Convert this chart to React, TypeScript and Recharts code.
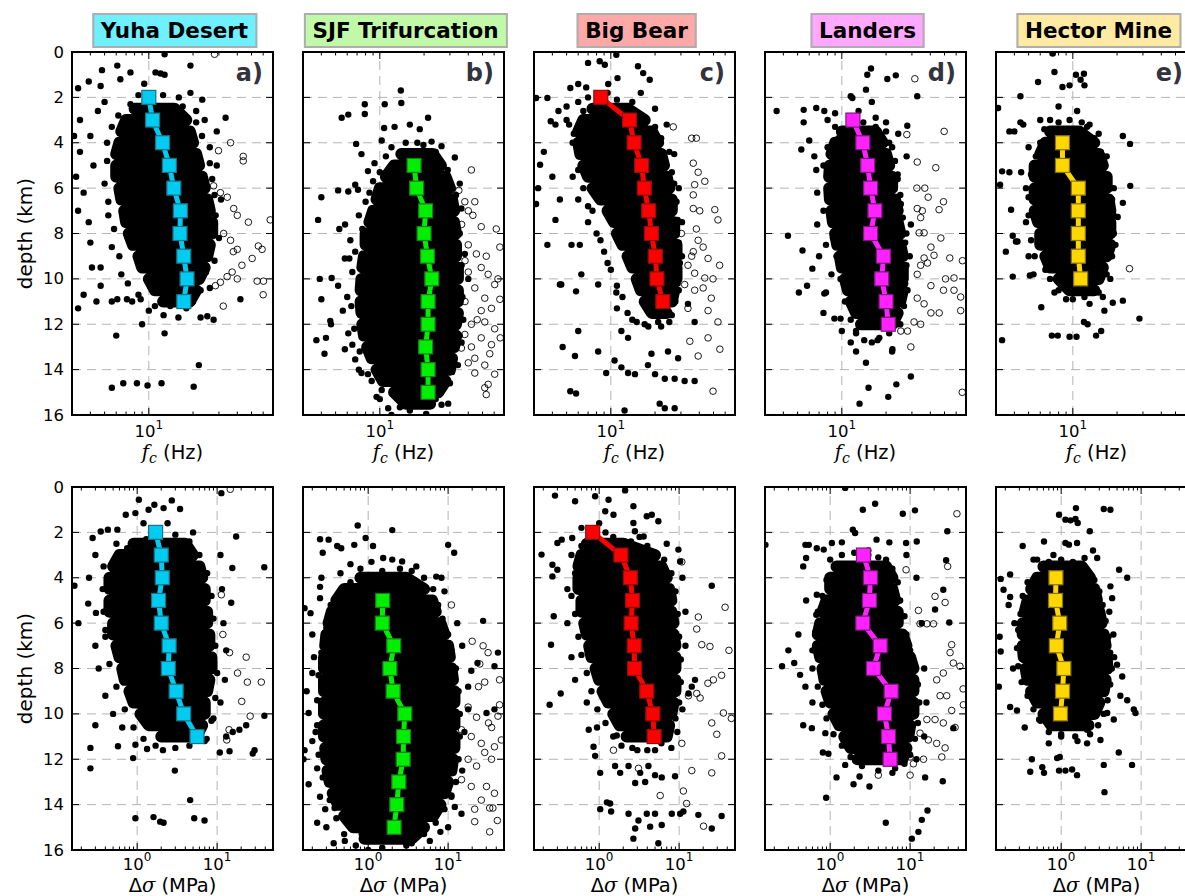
import React from 'react';
import { ScatterChart, Scatter, XAxis, YAxis, ReferenceLine } from 'recharts';

type Pt = [number, number]; // [value, depth km]
type Band = [number, number, number]; // [depth km, low, high] of the dense part of a cloud

// ---------- axes ----------
const depthTicks = [0, 2, 4, 6, 8, 10, 12, 14, 16];
const gridDepths = [2, 4, 6, 8, 10, 12, 14];
const fcTicks = [3, 4, 5, 6, 7, 8, 9, 10, 20, 30, 40, 50, 60, 70];
const fcMajor = [10];
const dsTicks = [0.2, 0.3, 0.4, 0.5, 0.6, 0.7, 0.8, 0.9, 1, 2, 3, 4, 5, 6, 7, 8, 9, 10, 20, 30, 40, 50];
const dsMajor = [1, 10];

const regionNames = ['Yuha Desert', 'SJF Trifurcation', 'Big Bear', 'Landers', 'Hector Mine'];
const panelLetters = ['a)', 'b)', 'c)', 'd)', 'e)'];
const titleColors = ['#6ef0ff', '#c2f9a8', '#ffa8a8', '#ffa8ff', '#ffeaa4'];
const medianColors = ['#00ccf2', '#00ee00', '#ff0000', '#ff22ff', '#ffd700'];
const medianEdges = ['#1f6f85', '#1d7a1d', '#8a1010', '#7a1a7a', '#8a7410'];

// ---------- corner frequency (Hz) vs depth ----------
const yuhaFcMedian: Pt[] = [[10.0, 2], [10.6, 3], [12.4, 4], [13.8, 5], [14.8, 6], [16.4, 7], [16.3, 8], [17.3, 9], [18.2, 10], [17.3, 11]];
const yuhaFcCore: Band[] = [[2.5, 8, 15], [3, 7, 18], [3.5, 6.5, 19], [4, 6.3, 20], [4.5, 6, 21], [5, 6, 22], [5.5, 6, 23], [6, 6.3, 24], [6.5, 6.5, 25], [7, 6.8, 26], [7.5, 7, 27], [8, 7.3, 27], [8.5, 7.8, 26], [9, 8.5, 25], [9.5, 9, 24], [10, 10, 22], [10.5, 11, 21], [11, 12.5, 19]];
const yuhaFcDots: Pt[] = [[4.8, 0.8], [6.1, 0.6], [7.5, 0.9], [11.1, 0.9], [12, 0.95], [12.8, 1], [19.2, 0.6], [12.8, 0.1], [3.3, 1.6], [3.9, 1.3], [4.7, 1.5], [6.4, 1.2], [9.3, 1.4], [19.2, 1.8], [23.1, 2.1], [33.3, 2.9], [3.1, 3.7], [3.4, 3], [4, 3.7], [3.4, 4.4], [3.2, 5.5], [3.6, 6.2], [4.2, 5], [3.3, 7], [3.9, 7.5], [4, 8.4], [4.1, 9.5], [4.7, 9.5], [4.7, 10.3], [3.6, 10.7], [3.3, 11.3], [4.4, 11], [5.6, 11], [6.1, 10.9], [7.1, 10.9], [7.7, 11], [8.8, 10.9], [9, 12], [6, 12.5], [12.8, 12.4], [21.9, 13.8], [5.6, 14.8], [6.7, 14.6], [8.3, 14.6], [9.8, 14.7], [12.2, 14.6], [20.2, 14.75], [27.6, 11.8], [25, 11.65], [22.5, 11.7], [42, 10.9], [12.6, 11.6], [15.9, 11.7], [29, 3.5], [29, 5], [31, 6.5], [30, 8.2], [5, 2.2], [4.5, 2.6], [8.5, 1.9], [5.2, 4], [5, 5.8], [5.3, 7.2], [5.6, 8.6], [6.5, 9.8], [7.5, 2.3], [6.2, 2.8], [16, 2], [21, 2.6], [24, 3], [26, 4.2], [27, 5.6], [28.5, 7.2], [28, 9.2], [26, 10.4], [10, 11.4], [14, 11.2], [18, 11.3], [5.6, 3.3], [5.2, 4.8], [5.3, 6.6], [5.8, 7.8], [6.3, 9], [7.2, 10.2], [8.5, 10.7], [11, 11.2], [20, 11], [22.5, 10.5], [24.5, 9.7], [26.5, 8.6], [28, 6.3], [26, 4.9], [23, 3.7], [21, 3.1], [17, 2.4], [12.5, 1.9], [9.5, 2.2]];
const yuhaFcOpen: Pt[] = [[36, 4], [29.8, 4.35], [43.9, 4.6], [43.9, 4.8], [27.6, 5.9], [30.7, 6.2], [34.2, 6.4], [47.6, 7.5], [32.3, 8], [36, 8.3], [40, 8.7], [55.6, 8.55], [59, 8.7], [50.5, 9.1], [37.6, 8.8], [43, 9.4], [36.9, 9.7], [40, 10], [34.1, 9.9], [54.6, 10.1], [60.3, 10.1], [60, 10.7], [32.1, 11.2], [28.4, 10.3], [30.7, 10.15], [37.8, 6.9], [40, 7.2], [67, 7.4], [28, 0.1]];

const sjfFcMedian: Pt[] = [[17.1, 5], [17.8, 6], [20.5, 7], [20, 8], [21.1, 9], [22.6, 10], [21.3, 11], [21.3, 12], [20.5, 13], [21.3, 14], [21.3, 15]];
const sjfFcCore: Band[] = [[4.5, 14, 23], [5, 12.5, 26], [5.5, 11, 28], [6, 10, 30], [6.5, 9.5, 31], [7, 9, 32], [7.5, 8.5, 32], [8, 8, 33], [8.5, 8, 33], [9, 7.8, 33], [9.5, 7.6, 34], [10, 7.5, 34], [10.5, 7.4, 34], [11, 7.4, 34], [11.5, 7.5, 34], [12, 7.6, 33], [12.5, 7.8, 33], [13, 8.2, 32], [13.5, 8.8, 31], [14, 9.5, 30], [14.5, 10.5, 28], [15, 12.5, 25], [15.5, 15, 22]];
const sjfFcDots: Pt[] = [[13.9, 1.7], [7.9, 2.3], [10.8, 2.3], [14, 2.25], [5.5, 2.9], [6.1, 2.76], [7.9, 2.73], [21.3, 2.9], [10.7, 3.35], [12.6, 3.3], [16, 3.2], [18.7, 3.4], [6.9, 4.05], [7.5, 4.5], [10.3, 3.9], [26.3, 4.15], [32.4, 4.65], [22.5, 3.95], [19.8, 4.1], [5.2, 6.1], [6.1, 6.15], [7.1, 6.07], [4, 6.4], [3.8, 7.4], [5.8, 7.6], [5.3, 7.8], [8.3, 5.25], [9, 5.7], [6.8, 5.85], [5.78, 9.1], [6.2, 9.1], [3.9, 10], [4.7, 9.96], [5.2, 10.3], [4, 10.9], [4.6, 11.85], [4.65, 12], [3.7, 12.7], [4.3, 12.6], [4.2, 13.3], [5.78, 13.1], [6.8, 13.55], [7.5, 14.15], [8.8, 14.5], [10.3, 14.9], [11.4, 15.7], [13.7, 15.66], [26.3, 15.55], [29.2, 15.5], [20.7, 15.95], [32.4, 6.6], [35.9, 6.9], [37.9, 8.9], [40, 10], [6.3, 8.3], [6, 10.8], [5.6, 11.4], [6.1, 12.4], [6.5, 12.9], [7.2, 14], [9.5, 15.2], [12, 16], [16, 15.8], [24, 15.3], [30, 14.6], [34, 13.8], [36, 12.8], [37, 11.8], [12, 4.2], [9.2, 4.9], [8, 6.6], [7.2, 7.2], [35, 5.8], [27, 5], [15, 4], [11, 4.6], [10, 5.3], [8.5, 6.2], [7.6, 7.8], [6.8, 8.8], [6.5, 9.7], [6.4, 11.2], [6.7, 12.2], [7.3, 13.2], [8.3, 14.2], [10, 15.3], [18, 15.6], [26, 14.9], [31, 14.1], [35, 12.5], [36.5, 10.8], [36, 9.4], [35, 8], [33, 6.3], [29, 5.2], [24, 4.4], [18, 4]];
const sjfFcOpen: Pt[] = [[42, 5.2], [34.5, 6.1], [37.9, 6.6], [44.3, 6.6], [40, 7], [43, 7.2], [49, 7.7], [62, 7.8], [65.6, 8.6], [40, 8.5], [45.4, 8.9], [53, 9], [40, 9.7], [49, 9.5], [54.6, 9.8], [63.7, 10], [44.3, 10.4], [51.8, 10.85], [60.5, 10.25], [49, 11.4], [57.5, 11.3], [65.6, 10.9], [42, 12], [51.8, 11.9], [60.5, 12.2], [49, 12.6], [57.5, 12.9], [66, 12.6], [44.3, 13.5], [51.8, 13.8], [60.5, 14.2], [54.6, 14.65], [53, 15.1], [51.8, 14.8], [40, 13.7], [44.3, 14.15], [35.9, 13.05], [37.9, 12.45], [38, 9.2], [36, 7.6], [46, 11.8], [38, 11], [56, 13.3], [42, 13]];

const bigBearFcMedian: Pt[] = [[8.55, 2], [13.4, 3], [14.4, 4], [16.2, 5], [16.9, 6], [18.1, 7], [18.9, 8], [20.1, 9], [20.6, 10], [22.6, 11]];
const bigBearFcCore: Band[] = [[2.5, 7.5, 13], [3, 6.5, 17], [3.5, 6, 19], [4, 6, 21], [4.5, 6.2, 22], [5, 6.5, 23], [5.5, 7, 24], [6, 7.5, 25], [6.5, 8.5, 26], [7, 9.5, 26], [7.5, 10.5, 27], [8, 11, 27], [8.5, 12, 28], [9, 13, 28], [9.5, 14, 28], [10, 15, 28], [10.5, 16, 27], [11, 17, 26], [11.5, 19, 24]];
const bigBearFcDots: Pt[] = [[7, 0.48], [9.1, 0.56], [8.4, 0.41], [10.9, 0.12], [15.3, 0.63], [16.6, 0.93], [18.4, 1.22], [11.1, 1.15], [9.6, 1.41], [6.8, 1.56], [6, 1.41], [5.3, 1.59], [3.7, 2.03], [3.1, 2.03], [4.4, 2.6], [3.9, 3.05], [4.2, 3.2], [3.5, 4.4], [3.3, 4.97], [3.2, 6], [3.1, 6.7], [4.5, 6.5], [4.2, 7.4], [3.7, 8.5], [5.4, 8.5], [6.15, 8.5], [6.3, 9.8], [4.6, 10.25], [4.5, 10.25], [5.8, 10.55], [8.2, 10.25], [10.9, 10.6], [4.7, 13], [5.7, 13.4], [6, 12.3], [8.2, 13.2], [9.3, 14.15], [10.6, 13.6], [11.8, 13.9], [13.1, 14.15], [14.6, 14.2], [17.9, 13.8], [20, 14.2], [23.3, 14.4], [27.2, 14.4], [31.8, 14.5], [37.2, 14.5], [5.3, 14.95], [5.8, 15.05], [21.5, 15.5], [23.3, 15.7], [27.2, 15.7], [12.4, 15.8], [18.9, 13.3], [24.5, 13.2], [28.7, 13.5], [13.1, 12.6], [11.8, 12.3], [33.5, 11.1], [37.2, 11.9], [5, 2.4], [6, 2.2], [11, 2.1], [14, 2.2], [5.5, 4], [5.5, 5.5], [6, 6.5], [7, 7.5], [8.5, 8.3], [9.5, 9.3], [11, 11.3], [14, 11.8], [17, 12], [21, 11.9], [26, 11.6], [29, 10.5], [30.5, 9], [30.5, 7.5], [29, 6], [27, 4.5], [24, 3.2], [20, 2.5], [16, 1.8], [4, 5.5], [5.2, 3.2], [5, 3], [5.6, 3.6], [6.2, 4.6], [6, 5.2], [6.5, 6], [7, 6.8], [7.5, 7], [8, 8], [9, 8.8], [10, 9.6], [11, 10.3], [12, 10.8], [13, 11.5], [15, 11.9], [18, 12.1], [6.5, 2.6], [7, 2], [9.5, 1.8], [12.5, 2.4], [14.5, 2.7], [17, 2.9], [20, 3.3], [22, 3.8], [25, 4.4], [26, 5.3], [27, 5.8], [28, 6.6], [28.5, 7.4], [29, 8.4], [29.5, 9.3], [28.5, 10.2], [27.5, 11], [25, 11.9], [22, 12.1]];
const bigBearFcOpen: Pt[] = [[26.6, 3.3], [35.5, 3.8], [38.2, 3.8], [36.4, 4.9], [39.3, 5.3], [43.6, 5.7], [37.2, 5.85], [36.4, 6.3], [36.4, 6.9], [40.3, 7], [51, 6.95], [53.6, 7.4], [30.2, 8], [39.3, 8.3], [42.5, 8.6], [36.4, 8.8], [45.9, 9.1], [55, 9.4], [33.5, 9.4], [28.7, 9.7], [37.2, 9.75], [43.6, 9.96], [49.6, 10], [31.8, 10.25], [37.2, 10.5], [42.5, 10.4], [48.3, 10.85], [45.9, 11.4], [53.6, 11.9], [33.5, 11.3], [34.5, 12.75], [45.9, 12.6], [39.3, 13.4], [49.6, 14.95], [55.2, 13.1], [38.2, 7.8], [35.5, 9]];

const landersFcMedian: Pt[] = [[11.9, 3], [13.9, 4], [15, 5], [15.7, 6], [16.8, 7], [15.7, 8], [19.2, 9], [18.7, 10], [20, 11], [20.7, 12]];
const landersFcCore: Band[] = [[3.5, 10, 17], [4, 9, 19], [4.5, 8.5, 20], [5, 8.3, 21], [5.5, 8.2, 22], [6, 8.2, 22], [6.5, 8.3, 23], [7, 8.5, 24], [7.5, 8.7, 24], [8, 9, 25], [8.5, 9.3, 25], [9, 9.7, 26], [9.5, 10, 26], [10, 10.5, 26], [10.5, 11, 26], [11, 11.5, 25], [11.5, 12.5, 24], [12, 13.5, 22]];
const landersFcDots: Pt[] = [[15.8, 0.73], [14.9, 1], [14.6, 1.66], [20.4, 1.19], [23.3, 1.03], [13.5, 3.64], [11.5, 1.95], [11.8, 2.03], [32.6, 1.95], [3.6, 2.6], [5.5, 2.55], [6.7, 2.47], [7.6, 2.6], [5.3, 4.3], [6, 3.9], [5.5, 3.1], [6.7, 5.2], [6.8, 6.2], [4.3, 8.1], [5.4, 8.75], [6.3, 9.55], [5.1, 10.6], [5.8, 10.3], [7.6, 10.65], [7.8, 10.6], [7.5, 11.5], [8.9, 11.75], [9.8, 11.75], [11.5, 12.8], [14.2, 12.7], [17.5, 12.7], [22.1, 13.1], [14.6, 13.7], [29.5, 14.3], [23.5, 14.65], [15.2, 14.8], [20.7, 15.2], [13.2, 15.5], [27.9, 3.25], [24.2, 3.6], [27.6, 4.6], [25.2, 6.7], [29.5, 7.6], [8, 3], [9, 2.7], [13, 2.6], [17, 2.9], [20, 3.1], [8, 4.2], [7.5, 5], [7.5, 7], [7.8, 8.5], [8.5, 9.8], [10, 12.3], [12.5, 12.4], [25, 12], [28, 10.5], [29, 9], [27.5, 8], [24, 5.4], [22, 4.2], [10.5, 3.5], [16, 2.2], [12.5, 13.2], [9, 3.3], [9.5, 3.8], [8.5, 4.6], [8, 5.5], [8.2, 6.3], [8.3, 7.3], [8.7, 8.2], [9.2, 9], [9.8, 10], [10.5, 11], [11.5, 11.8], [12.5, 12.3], [20, 3.5], [21, 4], [23, 4.8], [24, 5.6], [25, 6.3], [26, 7.3], [27, 8.4], [27.5, 9.4], [27, 10.2], [26.5, 11.2], [24, 12], [21, 12.4], [18, 12.6], [16, 12.8], [14, 3.1], [17, 3.3], [6.5, 4.6], [6.8, 7.6], [7, 9], [22, 13.2]];
const landersFcOpen: Pt[] = [[31.4, 1.18], [49.7, 3.5], [27.7, 3.64], [32.6, 4.85], [43.6, 5.1], [32.4, 6], [36.7, 6], [38.7, 6.4], [49.2, 6.6], [45.9, 6.95], [32.6, 6.9], [35.3, 7], [34.4, 7.3], [33.6, 7.97], [36.3, 7.97], [47.2, 8.2], [40.4, 8.6], [42.4, 8.96], [36.3, 9.08], [38.3, 9.3], [34.4, 9.4], [54.3, 9.08], [66.2, 9.2], [32.6, 9.8], [40.4, 10.3], [50.8, 10], [58, 9.96], [49.2, 10.5], [58, 10.5], [64.4, 10.8], [32.6, 10.85], [36.3, 11.1], [40.4, 11.5], [46, 11.5], [31, 11.9], [34.4, 12], [28, 12.3], [64.4, 11.4], [25.2, 12.3], [29.5, 13], [66, 15]];

const hectorFcMedian: Pt[] = [[8.5, 4], [8.5, 5], [10.9, 6], [10.9, 7], [10.9, 8], [10.9, 9], [11.3, 10]];
const hectorFcCore: Band[] = [[3.5, 7, 11], [4, 6.5, 14], [4.5, 6, 15], [5, 5.5, 16], [5.5, 5.5, 17], [6, 5.5, 17], [6.5, 5.5, 17.5], [7, 5.5, 18], [7.5, 5.8, 18], [8, 6, 18], [8.5, 6, 18], [9, 6.5, 17], [9.5, 7, 16], [10, 8, 15], [10.5, 9.5, 14]];
const hectorFcDots: Pt[] = [[7.5, 0.88], [7.3, 0.07], [5.8, 1.32], [8.5, 1.54], [9.5, 1.47], [10.5, 1], [11.9, 0.96], [12, 1.47], [11.3, 1.22], [4.4, 1.95], [3.1, 2.47], [3.3, 5.26], [3.2, 5.85], [3.7, 3.5], [4, 3.5], [4.45, 5.3], [3.7, 5.3], [3.8, 6.95], [3.9, 8.1], [4.1, 8.35], [3.5, 8.8], [4.2, 8.35], [3.9, 9.9], [5.1, 9.85], [5.4, 9.8], [6.1, 11.25], [3.3, 12.7], [7.2, 12.5], [7.9, 12.5], [9.5, 12.55], [10.6, 12.55], [11.9, 11.9], [12.6, 12], [14.4, 12.5], [15.6, 12.3], [21.9, 10.96], [28.4, 11.75], [18.7, 11.05], [16.4, 11.4], [21.9, 3.7], [24.5, 4.05], [24.6, 5.9], [21.9, 6.65], [20.2, 7.27], [8, 2.4], [10.7, 2.6], [4.4, 3.1], [4.6, 3.2], [6, 3], [13, 3.2], [15, 3.6], [17, 4.6], [19, 6], [19.5, 8.5], [18, 10], [16, 10.8], [13, 11.1], [10, 10.9], [7.5, 10.6], [5, 4.2], [4.8, 6], [4.8, 7.5], [5, 9], [7, 3], [8, 3.1], [9.5, 3], [11.5, 3.1], [12.5, 3.3], [14, 3.8], [15.5, 4.4], [16.5, 5], [17.5, 5.6], [18.5, 6.5], [19, 7.2], [19, 8], [18.5, 9], [17, 9.8], [15, 10.6], [12, 10.8], [9, 10.9], [8, 10.5], [7, 10], [6.5, 9.6], [5.5, 9], [5.2, 8.3], [5, 7.2], [5, 6.4], [5.2, 5.4], [5.6, 4.6], [6, 4], [6.4, 3.4]];
const hectorFcOpen: Pt[] = [[24.3, 9.55]];

// ---------- stress drop (MPa) vs depth ----------
const yuhaDsMedian: Pt[] = [[1.7, 2], [2, 3], [2.06, 4], [1.85, 5], [2, 6], [2.51, 7], [2.45, 8], [3.07, 9], [3.82, 10], [5.6, 11]];
const yuhaDsCore: Band[] = [[2.5, 0.9, 4], [3, 0.6, 5], [3.5, 0.5, 6], [4, 0.45, 6.5], [4.5, 0.45, 7], [5, 0.45, 7], [5.5, 0.45, 7.5], [6, 0.5, 7.5], [6.5, 0.5, 8], [7, 0.55, 8], [7.5, 0.6, 8.5], [8, 0.65, 8.5], [8.5, 0.7, 8], [9, 0.8, 7.5], [9.5, 0.9, 7], [10, 1.1, 7], [10.5, 1.4, 6.5], [11, 2, 5.5]];
const yuhaDsDots: Pt[] = [[1.05, 0.56], [1.64, 0.78], [2.14, 0.93], [2.71, 0.59], [3.44, 0.97], [0.72, 1.22], [0.95, 1.15], [1.39, 1], [11.3, 0.27], [17.3, 2.18], [38.9, 3.54], [15.5, 3.57], [0.164, 4.35], [0.277, 2.25], [0.35, 1.96], [0.43, 1.88], [0.565, 1.88], [0.244, 5.14], [0.305, 5.55], [0.184, 6], [15, 5.1], [0.3, 10.5], [0.26, 11.5], [0.26, 12.4], [0.575, 11.43], [0.95, 11.36], [1.33, 11.55], [2.1, 11.6], [0.89, 11.95], [2.96, 12.5], [4.6, 13.8], [0.95, 14.6], [1.6, 14.55], [1.94, 14.75], [2.14, 14.8], [5.17, 14.6], [6.96, 14.7], [10.8, 11.7], [14.3, 11.65], [27.9, 11.75], [29.4, 11.6], [39, 10.08], [23.1, 10.5], [19, 10.7], [13, 11], [15.7, 10.8], [7.4, 11.1], [0.3, 3], [0.25, 4], [0.3, 7], [0.33, 8], [0.4, 9.2], [0.5, 10], [0.65, 10.6], [11, 3], [11.5, 4.5], [12, 6], [13, 7.2], [12.5, 8.5], [11, 9.5], [9, 10.2], [1.2, 1.6], [2.4, 1.6], [5, 2], [0.55, 2.5], [0.4, 6.3], [0.38, 3.5], [0.37, 4.5], [0.38, 5.5], [0.4, 6.6], [0.45, 7.8], [0.55, 8.8], [0.7, 9.8], [0.9, 10.6], [1.2, 11.1], [1.7, 11.4], [3, 11.5], [4.5, 11.4], [7, 11.2], [8.5, 10.3], [9.5, 9.3], [10, 8.2], [9.5, 7], [9, 5.8], [8.5, 4.8], [7.5, 3.8], [6, 3], [4.5, 2.4], [3, 2.1], [1.3, 2.3], [0.75, 2.7]];
const yuhaDsOpen: Pt[] = [[14.6, 0.1], [20.3, 9.45], [25.9, 10.1], [14.1, 10.7], [13.2, 11.15], [23.9, 8.6], [35.7, 8.6], [11.3, 4.75], [11.8, 6.5], [14.3, 7.3], [23.1, 7.5], [18, 8.2]];

const sjfDsMedian: Pt[] = [[1.52, 5], [1.5, 6], [2.09, 7], [1.87, 8], [2.05, 9], [2.87, 10], [2.77, 11], [2.74, 12], [2.42, 13], [2.28, 14], [2.11, 15]];
const sjfDsCore: Band[] = [[4, 0.8, 3], [4.5, 0.5, 5], [5, 0.4, 6.3], [5.5, 0.35, 7], [6, 0.32, 8], [6.5, 0.3, 9], [7, 0.29, 10], [7.5, 0.28, 10.5], [8, 0.28, 11], [8.5, 0.28, 11.5], [9, 0.28, 12], [9.5, 0.28, 12], [10, 0.28, 12], [10.5, 0.28, 12], [11, 0.28, 12], [11.5, 0.29, 12], [12, 0.3, 11.5], [12.5, 0.31, 11], [13, 0.33, 10], [13.5, 0.36, 9], [14, 0.42, 8], [14.5, 0.5, 6.5], [15, 0.65, 5], [15.5, 0.9, 3.5]];
const sjfDsDots: Pt[] = [[0.74, 1.7], [0.25, 2.3], [0.32, 2.32], [0.41, 2.6], [0.46, 2.7], [0.67, 2.55], [0.93, 2.25], [0.27, 2.9], [0.26, 4], [0.25, 4.4], [10, 2.55], [11.9, 2.9], [1.15, 2.6], [1.54, 3.13], [2.66, 3.28], [7.1, 3.95], [8.25, 4], [0.16, 5.34], [0.19, 5.56], [0.25, 4.9], [0.17, 9], [0.18, 9.96], [0.16, 11.6], [0.155, 12], [0.18, 13.1], [0.23, 12.4], [0.25, 13.65], [0.29, 14.2], [0.38, 14.15], [0.37, 15.7], [0.51, 15.6], [0.83, 15.3], [1.47, 15.55], [3.5, 15.7], [5.9, 15.6], [11, 13.65], [12.1, 14.1], [14.7, 14.4], [27.4, 5.9], [23.3, 7.76], [19.5, 8.1], [42, 7.3], [38, 7.9], [30.2, 9.96], [38, 9.8], [17.8, 8.8], [17.8, 9.8], [0.51, 8.5], [0.3, 9.96], [0.2, 6.5], [0.21, 7.5], [0.2, 8.2], [0.22, 10.8], [0.2, 11.2], [0.23, 14.8], [2, 1.9], [0.6, 3.4], [4, 3.5], [9, 4.6], [13, 6], [15, 7], [16, 10.8], [15, 12.5], [0.3, 15], [1, 16], [8, 15.2], [10, 15], [0.45, 3.8], [0.8, 3.6], [1.5, 3.7], [2.5, 3.6], [3.5, 3.7], [5, 4], [6.5, 4.5], [7.5, 5.2], [8.5, 5.8], [10, 6.5], [11, 7.2], [12.5, 8], [13.5, 9], [14, 10], [14, 11], [13.5, 12], [12.5, 13], [11, 13.6], [9, 14.2], [7, 14.8], [5, 15.3], [3, 15.8], [1.5, 15.9], [0.7, 15.8], [0.5, 15.3], [0.4, 14.6], [0.33, 13.8], [0.27, 12.8], [0.24, 11.8], [0.23, 10.5], [0.23, 9.4], [0.24, 8.3], [0.26, 7.3], [0.3, 6.2], [0.34, 5.2], [0.6, 4.2], [4.2, 4.3], [1.1, 3.3], [2, 3.2]];
const sjfDsOpen: Pt[] = [[11, 5.2], [27.4, 7], [31.6, 7.3], [24.9, 7.8], [28.7, 8.6], [44, 8.5], [17.8, 9.7], [22.7, 10.15], [32, 10.4], [44, 9.6], [42, 10.1], [14.7, 10.7], [19.5, 11], [26, 11.3], [38, 11.45], [46.4, 11.15], [28.7, 11.7], [34.9, 12], [17.8, 12], [22.7, 12.3], [14.7, 12.9], [19.5, 13.2], [30.2, 13.2], [38, 13.5], [26, 13.8], [21.5, 14.2], [33.1, 14.15], [36.3, 14.15], [21.5, 14.75], [33.1, 15.2], [41.3, 14.7], [20, 6.8], [24, 8.8], [35, 10.6]];

const bigBearDsMedian: Pt[] = [[0.83, 2], [1.87, 3], [2.46, 4], [2.61, 5], [2.51, 6], [2.74, 7], [2.77, 8], [3.94, 9], [4.69, 10], [4.87, 11]];
const bigBearDsCore: Band[] = [[2.5, 0.7, 2], [3, 0.6, 5], [3.5, 0.55, 6], [4, 0.55, 7], [4.5, 0.55, 7.5], [5, 0.6, 8], [5.5, 0.6, 8], [6, 0.65, 8.5], [6.5, 0.7, 8.5], [7, 0.75, 9], [7.5, 0.8, 9], [8, 0.9, 9], [8.5, 1, 9], [9, 1.1, 9], [9.5, 1.3, 8.5], [10, 1.5, 8], [10.5, 1.8, 7.5], [11, 2.2, 7]];
const bigBearDsDots: Pt[] = [[0.28, 0.38], [0.5, 0.63], [0.89, 0.41], [1.31, 0.56], [2.11, 0.15], [2.68, 0.85], [1.19, 1.07], [1.51, 1.22], [2.68, 1.59], [3.94, 1.29], [4.55, 1.22], [5.5, 1.51], [2.8, 1.95], [3.6, 2.18], [9.8, 2.76], [10.3, 3.28], [0.19, 2.98], [0.3, 3.65], [0.26, 3.43], [0.26, 3.94], [0.27, 5.7], [0.25, 6.95], [0.24, 9.6], [0.33, 9.1], [0.3, 2.47], [0.34, 2.32], [0.46, 2.25], [25.6, 4.35], [0.74, 10.7], [0.94, 10.6], [1.58, 10.05], [1.66, 10.95], [0.85, 11.45], [0.89, 11.85], [1.03, 12.6], [1.58, 12.3], [1.83, 12.6], [2.33, 12.3], [3.26, 12.6], [4.13, 12.3], [2.82, 13.05], [3.76, 13], [5, 12.7], [6.06, 12.8], [8.9, 12.75], [1.25, 13.9], [1.37, 13.95], [1.03, 14.2], [1.41, 14.3], [2.33, 14.4], [3.1, 14.7], [3.94, 14.4], [5, 14.4], [8.1, 14.4], [10.3, 14.4], [11.3, 14.3], [17.4, 14.45], [34, 14.5], [2.82, 15.05], [4.34, 14.97], [6.06, 14.9], [25.6, 15.05], [2.68, 15.5], [5.5, 15.7], [13.1, 9.1], [14.4, 8.8], [15.8, 8.5], [0.4, 4.5], [0.4, 6], [0.45, 7.5], [0.5, 8.5], [0.7, 9.5], [1.2, 2], [0.6, 1.8], [7, 2.5], [11, 4], [12, 5.5], [12, 7], [11, 9.8], [9.5, 10.8], [8, 11.5], [5, 11.6], [2.6, 11.5], [0.45, 3], [0.5, 3.8], [0.45, 4.8], [0.5, 5.6], [0.55, 6.6], [0.6, 7.4], [0.7, 8.2], [0.8, 9], [0.95, 9.8], [1.2, 10.4], [1.5, 11], [1.9, 11.4], [3, 11.6], [4, 11.6], [6, 11.3], [7.5, 10.8], [9, 10.2], [10, 9.5], [10.5, 8.6], [10.5, 7.6], [10, 6.6], [9.6, 5.6], [9, 4.6], [8, 3.8], [6.5, 3.2], [4, 2.6], [2.5, 2.4], [1.5, 2.2], [0.6, 2.6], [1, 1.6], [3.2, 2.2]];
const bigBearDsOpen: Pt[] = [[10.8, 3.3], [17.4, 5.73], [16.6, 6.26], [19.2, 6.95], [24.3, 7.03], [37.6, 5.3], [34, 8.3], [22.9, 8.65], [26.8, 8.5], [18.3, 9.3], [16.6, 9.1], [8.5, 9.1], [13.1, 9.2], [25.6, 10.4], [29.6, 10.9], [35.8, 9.96], [10.8, 11.3], [14.4, 12.5], [25.6, 12.6], [34, 11.85], [1.51, 11.6], [3.1, 12.4], [5.8, 13.6], [11.3, 13.4], [12.4, 13.95], [20.2, 14.95], [42, 7.2], [45, 10.2]];

const landersDsMedian: Pt[] = [[2.61, 3], [3.19, 4], [3.1, 5], [2.56, 6], [4.22, 7], [3.48, 8], [5.79, 9], [4.78, 10], [5.36, 11], [5.62, 12]];
const landersDsCore: Band[] = [[3.5, 1.2, 5], [4, 1, 6], [4.5, 1, 6], [5, 0.9, 6.5], [5.5, 0.8, 7], [6, 0.75, 7], [6.5, 0.7, 8], [7, 0.7, 9], [7.5, 0.75, 10], [8, 0.8, 11], [8.5, 0.85, 11], [9, 0.9, 11], [9.5, 1, 11], [10, 1.1, 11], [10.5, 1.3, 10], [11, 1.5, 9.5], [11.5, 1.8, 9], [12, 2.2, 8]];
const landersDsDots: Pt[] = [[1.54, 0.04], [2.56, 1], [3.65, 0.74], [8.1, 1.18], [11.5, 1.03], [29.2, 1.95], [28.2, 3.23], [1.92, 1.88], [2.05, 2.03], [0.49, 2.55], [0.54, 2.55], [0.68, 2.7], [0.83, 2.76], [1.05, 2.47], [1.4, 2.44], [0.46, 3.5], [0.5, 3.13], [0.155, 2.55], [0.68, 4.75], [0.67, 5.63], [0.79, 6.07], [0.355, 7.76], [0.42, 8.28], [0.49, 8.8], [0.46, 10.5], [0.59, 10.63], [0.87, 10.85], [0.81, 11.7], [0.95, 11.76], [1.54, 12.25], [1.96, 13.1], [2.33, 12.76], [3.1, 13.2], [0.89, 13.7], [4.96, 14.8], [14, 14.67], [16.5, 14.26], [10.5, 15.5], [12.7, 15.2], [15.4, 12.8], [25.6, 12.97], [34.7, 10.63], [30.9, 5.97], [26, 4.53], [20.5, 5.4], [12.1, 2.4], [8.9, 2.47], [5.5, 2.44], [3.8, 2.32], [0.3, 7.2], [0.4, 6.5], [0.5, 5], [0.6, 9.5], [12, 4], [14, 6], [15, 8], [16, 9.5], [15, 11], [12, 12], [6, 12.6], [9, 3], [3, 2.8], [0.25, 7.9], [1.2, 12.8], [1, 3.2], [1.4, 3], [2, 2.9], [3, 3], [4, 3.1], [5, 3.2], [6, 3.6], [7, 4.2], [7.5, 5], [8.5, 5.7], [9, 6.5], [10, 7.2], [11.5, 7.9], [12.5, 8.7], [13, 9.5], [12.5, 10.4], [11.5, 11.1], [10, 11.8], [8.5, 12.2], [6.5, 12.4], [4, 12.5], [2.5, 12.3], [1.8, 11.9], [1.4, 11.4], [1.1, 10.9], [0.9, 10.2], [0.8, 9.6], [0.7, 8.8], [0.6, 8], [0.6, 7.2], [0.65, 6.4], [0.7, 5.5], [0.8, 4.8], [0.9, 4.1]];
const landersDsOpen: Pt[] = [[38.5, 1.18], [8.9, 3.65], [29.5, 3.5], [20.5, 4.82], [27.4, 5.09], [12.7, 5.44], [13.3, 6.03], [16.2, 6.03], [19.6, 6.03], [33.1, 6.95], [31.6, 7.3], [34.7, 7.76], [26, 8.2], [21.5, 8.5], [42, 7.9], [46, 8.9], [46.4, 9.6], [23.7, 9.2], [28.7, 9.2], [33.1, 9.85], [16.2, 10.25], [20.5, 10.25], [26, 10.4], [36.5, 10.6], [13.3, 10.85], [16.9, 11.15], [21.5, 11.3], [27.4, 11.5], [6.8, 11.3], [8.25, 11.45], [10, 11.9], [11, 12.2], [14.7, 12], [24.9, 11.9], [3.5, 11.4], [4, 12.7], [10, 12.7]];

const hectorDsMedian: Pt[] = [[0.86, 4], [0.85, 5], [0.96, 6], [0.87, 7], [1.08, 8], [1.04, 9], [0.98, 10]];
const hectorDsCore: Band[] = [[3.5, 0.6, 1.8], [4, 0.5, 2.3], [4.5, 0.42, 2.6], [5, 0.38, 2.8], [5.5, 0.35, 3], [6, 0.33, 3.2], [6.5, 0.33, 3.4], [7, 0.33, 3.6], [7.5, 0.34, 3.7], [8, 0.36, 3.8], [8.5, 0.38, 3.6], [9, 0.42, 3.4], [9.5, 0.5, 3], [10, 0.6, 2.6], [10.5, 0.75, 2.2]];
const hectorDsDots: Pt[] = [[0.94, 1.22], [1.13, 1.44], [1.31, 1.47], [1.51, 1.41], [1.61, 1.59], [1.53, 0.93], [3.41, 0.97], [4.13, 1], [2.28, 1.95], [0.61, 2.4], [0.33, 2.6], [1.13, 2.47], [1.25, 2.54], [1.58, 2.47], [1.96, 3.13], [2.82, 3.13], [0.23, 3.86], [0.175, 4.05], [5.3, 3.65], [6.7, 4], [0.19, 4.53], [0.23, 4.85], [0.22, 5.2], [0.17, 6.6], [0.175, 7.25], [0.166, 8.8], [4.13, 4.38], [4.34, 4.9], [5.8, 8.35], [5, 7.83], [8.1, 9.8], [8.5, 9.96], [6.7, 9.4], [5.5, 9.2], [0.23, 9.7], [0.28, 9.85], [0.53, 10.25], [5.25, 11.7], [7.7, 12.25], [3.41, 12.25], [0.43, 12], [0.89, 11.95], [0.96, 11.9], [0.41, 12.55], [0.61, 12.6], [0.58, 12.35], [0.94, 12.5], [1.13, 12.5], [1.37, 12.45], [1.58, 12.7], [3.48, 13.45], [2.11, 11.3], [3.1, 11.15], [3.76, 9.96], [4.55, 10.25], [3.1, 9.1], [3.4, 8.6], [2.11, 10.7], [0.45, 3.2], [0.8, 3], [2.5, 2.8], [4, 5.5], [4.5, 6.5], [4.6, 7.5], [0.26, 6], [0.25, 8], [0.35, 10.6], [1, 11], [1.6, 11.2], [0.7, 11.3], [0.5, 3.2], [0.7, 3.3], [1, 3.2], [1.4, 3.3], [2, 3.6], [2.6, 4.1], [3, 4.6], [3.3, 5.2], [3.6, 5.9], [3.9, 6.6], [4.1, 7.3], [4.3, 8], [4.1, 8.7], [3.8, 9.4], [3.4, 10], [2.9, 10.5], [2.3, 10.9], [1.5, 11], [1, 10.9], [0.7, 10.8], [0.55, 10.3], [0.45, 9.8], [0.38, 9.2], [0.32, 8.6], [0.29, 7.9], [0.28, 7.1], [0.29, 6.3], [0.31, 5.6], [0.33, 4.8], [0.38, 4.2]];
const hectorDsOpen: Pt[] = [];

interface PanelData { core: Band[]; dots: Pt[]; open: Pt[]; median: Pt[] }

const fcPanels: PanelData[] = [
  { core: yuhaFcCore, dots: yuhaFcDots, open: yuhaFcOpen, median: yuhaFcMedian },
  { core: sjfFcCore, dots: sjfFcDots, open: sjfFcOpen, median: sjfFcMedian },
  { core: bigBearFcCore, dots: bigBearFcDots, open: bigBearFcOpen, median: bigBearFcMedian },
  { core: landersFcCore, dots: landersFcDots, open: landersFcOpen, median: landersFcMedian },
  { core: hectorFcCore, dots: hectorFcDots, open: hectorFcOpen, median: hectorFcMedian },
];
const dsPanels: PanelData[] = [
  { core: yuhaDsCore, dots: yuhaDsDots, open: yuhaDsOpen, median: yuhaDsMedian },
  { core: sjfDsCore, dots: sjfDsDots, open: sjfDsOpen, median: sjfDsMedian },
  { core: bigBearDsCore, dots: bigBearDsDots, open: bigBearDsOpen, median: bigBearDsMedian },
  { core: landersDsCore, dots: landersDsDots, open: landersDsOpen, median: landersDsMedian },
  { core: hectorDsCore, dots: hectorDsDots, open: hectorDsOpen, median: hectorDsMedian },
];

// ---------- layout ----------
const COL_LEFT = [72, 303, 534, 765, 996];
const ROW_TOP = [52, 487];
const PW = 201;
const PH = 363;
const AXIS_W = 60;
const AXIS_H = 50;
const M_TOP = 10;
const M_RIGHT = 20;
const FONT = '"DejaVu Sans", sans-serif';

const toXY = (arr: Pt[]) => arr.map(([x, y]) => ({ x, y }));
// walk the bands back and forth so one thick stroke covers the dense cloud
const bandPath = (bands: Band[]) =>
  bands.flatMap(([d, lo, hi], i) =>
    i % 2 === 0 ? [{ x: lo, y: d }, { x: hi, y: d }] : [{ x: hi, y: d }, { x: lo, y: d }]
  );

const DotShape = (p: any) => <circle cx={p.cx} cy={p.cy} r={3.2} fill="#000" />;
const OpenShape = (p: any) => <circle cx={p.cx} cy={p.cy} r={3.3} fill="none" stroke="#000" strokeWidth={0.9} />;
const NoShape = () => <g />;

function Panel({ data, row, col }: { data: PanelData; row: number; col: number }) {
  const top = row === 0;
  const ticks = top ? fcTicks : dsTicks;
  const majors = top ? fcMajor : dsMajor;
  const domain: [number, number] = top ? [3, 70] : [0.153, 50];
  const labelDy = top ? 22 : 19.5;
  const color = medianColors[col];
  const edge = medianEdges[col];

  const xTick = (props: any) => {
    const { x, y, payload } = props;
    const v = payload.value;
    const major = majors.includes(v);
    const len = major ? 7 : 3.5;
    return (
      <g>
        <line x1={x} y1={y} x2={x} y2={y - len} stroke="#000" strokeWidth={1} />
        <line x1={x} y1={y - PH} x2={x} y2={y - PH + len} stroke="#000" strokeWidth={1} />
        {major && (
          <text x={x} y={y + labelDy} textAnchor="middle" fontSize={16.5} fontFamily={FONT} fill="#000">
            10<tspan dy={-8.5} fontSize={12}>{Math.round(Math.log10(v))}</tspan>
          </text>
        )}
      </g>
    );
  };

  const yTick = (props: any) => {
    const { x, y, payload } = props;
    return (
      <g>
        <line x1={x} y1={y} x2={x + 7} y2={y} stroke="#000" strokeWidth={1} />
        <line x1={x + PW} y1={y} x2={x + PW - 7} y2={y} stroke="#000" strokeWidth={1} />
        {col === 0 && (
          <text x={x - 8} y={y} textAnchor="end" dominantBaseline="central" fontSize={16.5} fontFamily={FONT} fill="#000">
            {payload.value}
          </text>
        )}
      </g>
    );
  };

  return (
    <div style={{ position: 'absolute', left: COL_LEFT[col] - AXIS_W, top: ROW_TOP[row] - M_TOP }}>
      <ScatterChart
        width={AXIS_W + PW + M_RIGHT}
        height={M_TOP + PH + AXIS_H}
        margin={{ top: M_TOP, right: M_RIGHT, bottom: 0, left: 0 }}
      >
        <XAxis
          type="number"
          dataKey="x"
          scale="log"
          domain={domain}
          allowDataOverflow
          ticks={ticks}
          interval={0}
          tickLine={false}
          axisLine={false}
          tickSize={0}
          tickMargin={0}
          height={AXIS_H}
          tick={xTick}
        />
        <YAxis
          type="number"
          dataKey="y"
          domain={[0, 16]}
          reversed
          allowDataOverflow
          ticks={depthTicks}
          interval={0}
          tickLine={false}
          axisLine={false}
          tickSize={0}
          tickMargin={0}
          width={AXIS_W}
          tick={yTick}
        />
        <Scatter
          data={bandPath(data.core)}
          line={{ stroke: '#000', strokeWidth: 12, strokeLinecap: 'round', strokeLinejoin: 'round' }}
          lineType="joint"
          shape={NoShape}
          isAnimationActive={false}
        />
        <Scatter data={toXY(data.dots)} shape={DotShape} isAnimationActive={false} />
        <Scatter data={toXY(data.open)} shape={OpenShape} isAnimationActive={false} />
        {gridDepths.map((d) => (
          <ReferenceLine key={'h' + d} y={d} stroke="#b4b4b4" strokeWidth={1} strokeDasharray="9 6" />
        ))}
        {majors.map((m) => (
          <ReferenceLine key={'v' + m} x={m} stroke="#b4b4b4" strokeWidth={1} strokeDasharray="9 6" />
        ))}
        <Scatter
          data={toXY(data.median)}
          line={{ stroke: color, strokeWidth: 5 }}
          lineType="joint"
          shape={(p: any) => (
            <rect x={p.cx - 7} y={p.cy - 7} width={14} height={14} fill={color} stroke={edge} strokeWidth={1.2} />
          )}
          isAnimationActive={false}
        />
      </ScatterChart>
    </div>
  );
}

export default function App() {
  return (
    <div
      style={{
        position: 'absolute',
        left: 0,
        top: 0,
        width: 1185,
        height: 896,
        overflow: 'hidden',
        background: '#fff',
        fontFamily: FONT,
      }}
    >
      {fcPanels.map((p, c) => (
        <Panel key={'fc' + c} data={p} row={0} col={c} />
      ))}
      {dsPanels.map((p, c) => (
        <Panel key={'ds' + c} data={p} row={1} col={c} />
      ))}

      {regionNames.map((name, c) => (
        <div
          key={name}
          style={{
            position: 'absolute',
            left: COL_LEFT[c] + PW / 2 + 2,
            top: 13,
            transform: 'translateX(-50%)',
            height: 35,
            boxSizing: 'border-box',
            border: '2px solid #aeaeae',
            background: titleColors[c],
            padding: '0 7px',
            fontWeight: 'bold',
            fontSize: 21.5,
            lineHeight: '31px',
            whiteSpace: 'nowrap',
            color: '#000',
          }}
        >
          {name}
        </div>
      ))}

      <svg
        width={1185}
        height={896}
        style={{ position: 'absolute', left: 0, top: 0, pointerEvents: 'none' }}
      >
        {ROW_TOP.map((rt) =>
          COL_LEFT.map((cl) => (
            <rect key={rt + '-' + cl} x={cl} y={rt} width={PW} height={PH} fill="none" stroke="#000" strokeWidth={2} />
          ))
        )}
        {panelLetters.map((l, c) => (
          <text
            key={l}
            x={Math.min(COL_LEFT[c] + PW - 10, 1183)}
            y={ROW_TOP[0] + 29}
            textAnchor="end"
            fontSize={24}
            fontWeight="bold"
            fontFamily={FONT}
            fill="#33333d"
          >
            {l}
          </text>
        ))}
        {ROW_TOP.map((rt) => (
          <text
            key={'yl' + rt}
            transform={`translate(25 ${rt + PH / 2}) rotate(-90)`}
            textAnchor="middle"
            dominantBaseline="central"
            fontSize={20}
            fontFamily={FONT}
            fill="#000"
          >
            depth (km)
          </text>
        ))}
        {COL_LEFT.map((cl) => (
          <text key={'fx' + cl} x={cl + PW / 2} y={459} textAnchor="middle" fontSize={19.5} fontFamily={FONT} fill="#000">
            <tspan fontStyle="italic" fontFamily='"DejaVu Serif", serif'>f</tspan>
            <tspan fontStyle="italic" fontFamily='"DejaVu Serif", serif' fontSize={14} dy={4}>c</tspan>
            <tspan dy={-4}> (Hz)</tspan>
          </text>
        ))}
        {COL_LEFT.map((cl) => (
          <text key={'dx' + cl} x={cl + PW / 2} y={891.5} textAnchor="middle" fontSize={19.5} fontFamily={FONT} fill="#000">
            <tspan>Δ</tspan>
            <tspan fontStyle="italic" fontFamily='"DejaVu Serif", serif'>σ</tspan>
            <tspan> (MPa)</tspan>
          </text>
        ))}
      </svg>
    </div>
  );
}
